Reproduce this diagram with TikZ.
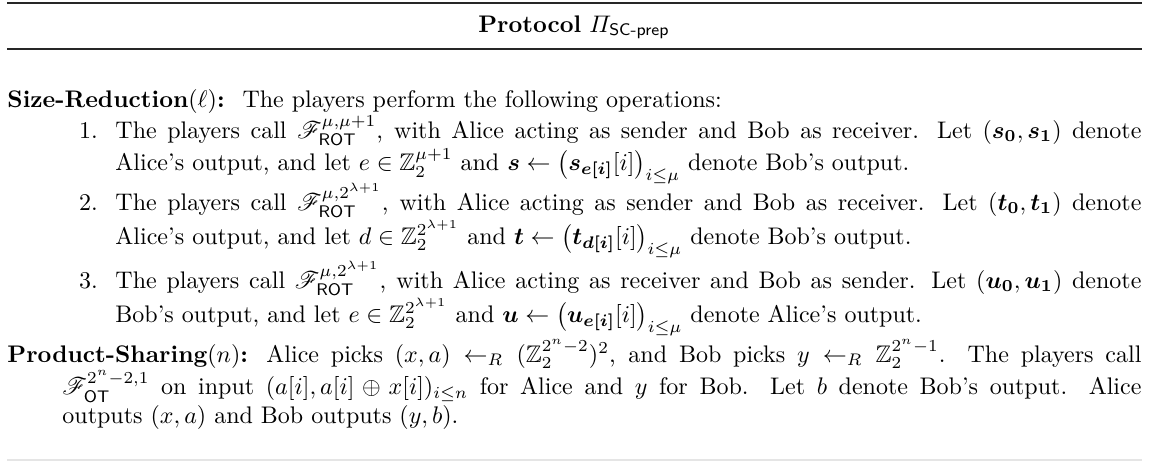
\documentclass[tikz,border=0pt]{standalone}
\usepackage{amssymb,amsmath,amsthm}
\usepackage{mathrsfs}
\usepackage{xcolor}
\usepackage{tikz}
\usetikzlibrary{positioning}
\newcommand{\Func}{\mathscr{F}}
\newcommand{\ROT}{\textsf{ROT}}
\newcommand{\OTf}{\textsf{OT}}
\newcommand{\vb}[1]{\boldsymbol{#1}}
\tikzstyle{heavyrule} = [line width=0.8pt,black!85]
\tikzstyle{lightrule} = [line width=0.5pt,black!10]
\tikzstyle{para} = [inner sep=0pt,anchor=base west,align=justify]
\tikzstyle{numlabel} = [inner sep=0pt,anchor=base east]

\begin{document}
\begin{tikzpicture}[x=0.41667pt,y=-0.41667pt]
    \useasboundingbox (0,0) rectangle (1155,461);

    \coordinate (topl) at (7,3);
    \coordinate (topr) at (1142,3);
    \coordinate (midl) at (7,49);
    \coordinate (midr) at (1142,49);
    \coordinate (botl) at (7,460);
    \coordinate (botr) at (1142,460);
    \draw[heavyrule] (topl) -- (topr);
    \draw[heavyrule] (midl) -- (midr);
    \draw[lightrule] (botl) -- (botr);

    \node[inner sep=0pt,anchor=base] (title) at (574,32) {\textbf{Protocol} $\varPi_{\textsf{SC-prep}}$};

    \node[para,text width=472.5pt] (sizered) at (7,107) {\textbf{Size-Reduction}$(\ell)$\textbf{:}\hspace{3pt} The players perform the following operations:};

    \node[para,text width=427.5pt] (step1) at (115,138) {The players call $\Func^{\mu,\mu+1}_{\ROT}$, with Alice acting as sender and Bob as receiver. Let $(\vb{s_0},\vb{s_1})$ denote\linebreak Alice's output, and let $e\in\mathbb{Z}_2^{\mu+1}$ and $\vb{s}\leftarrow\big(\vb{s_{e[i]}}[i]\big)_{i\le\mu}$ denote Bob's output.};
    \node[numlabel] (n1) at ([xshift=-7pt]step1.base west) {1.};

    \node[para,text width=427.5pt] (step2) at (115,210) {The players call $\Func^{\mu,2^{\lambda+1}}_{\ROT}$, with Alice acting as sender and Bob as receiver. Let $(\vb{t_0},\vb{t_1})$ denote\linebreak Alice's output, and let $d\in\mathbb{Z}_2^{2^{\lambda+1}}$ and $\vb{t}\leftarrow\big(\vb{t_{d[i]}}[i]\big)_{i\le\mu}$ denote Bob's output.};
    \node[numlabel] (n2) at ([xshift=-7pt]step2.base west) {2.};

    \node[para,text width=427.5pt] (step3) at (115,288) {The players call $\Func^{\mu,2^{\lambda+1}}_{\ROT}$, with Alice acting as receiver and Bob as sender. Let $(\vb{u_0},\vb{u_1})$ denote\linebreak Bob's output, and let $e\in\mathbb{Z}_2^{2^{\lambda+1}}$ and $\vb{u}\leftarrow\big(\vb{u_{e[i]}}[i]\big)_{i\le\mu}$ denote Alice's output.};
    \node[numlabel] (n3) at ([xshift=-7pt]step3.base west) {3.};

    \node[para,text width=472.5pt] (prodshare) at (7,362) {\hangindent=22.9pt\hangafter=1 \textbf{Product-Sharing}$(n)$\textbf{:} Alice picks $(x,a)\leftarrow_R(\mathbb{Z}_2^{2^n-2})^2$, and Bob picks $y\leftarrow_R\mathbb{Z}_2^{2^n-1}$. The players call\linebreak $\Func_{\OTf}^{2^n-2,1}$ on input $(a[i],a[i]\oplus x[i])_{i\le n}$ for Alice and $y$ for Bob. Let $b$ denote Bob's output. Alice\linebreak outputs $(x,a)$ and Bob outputs $(y,b)$.\par};
\end{tikzpicture}
\end{document}
